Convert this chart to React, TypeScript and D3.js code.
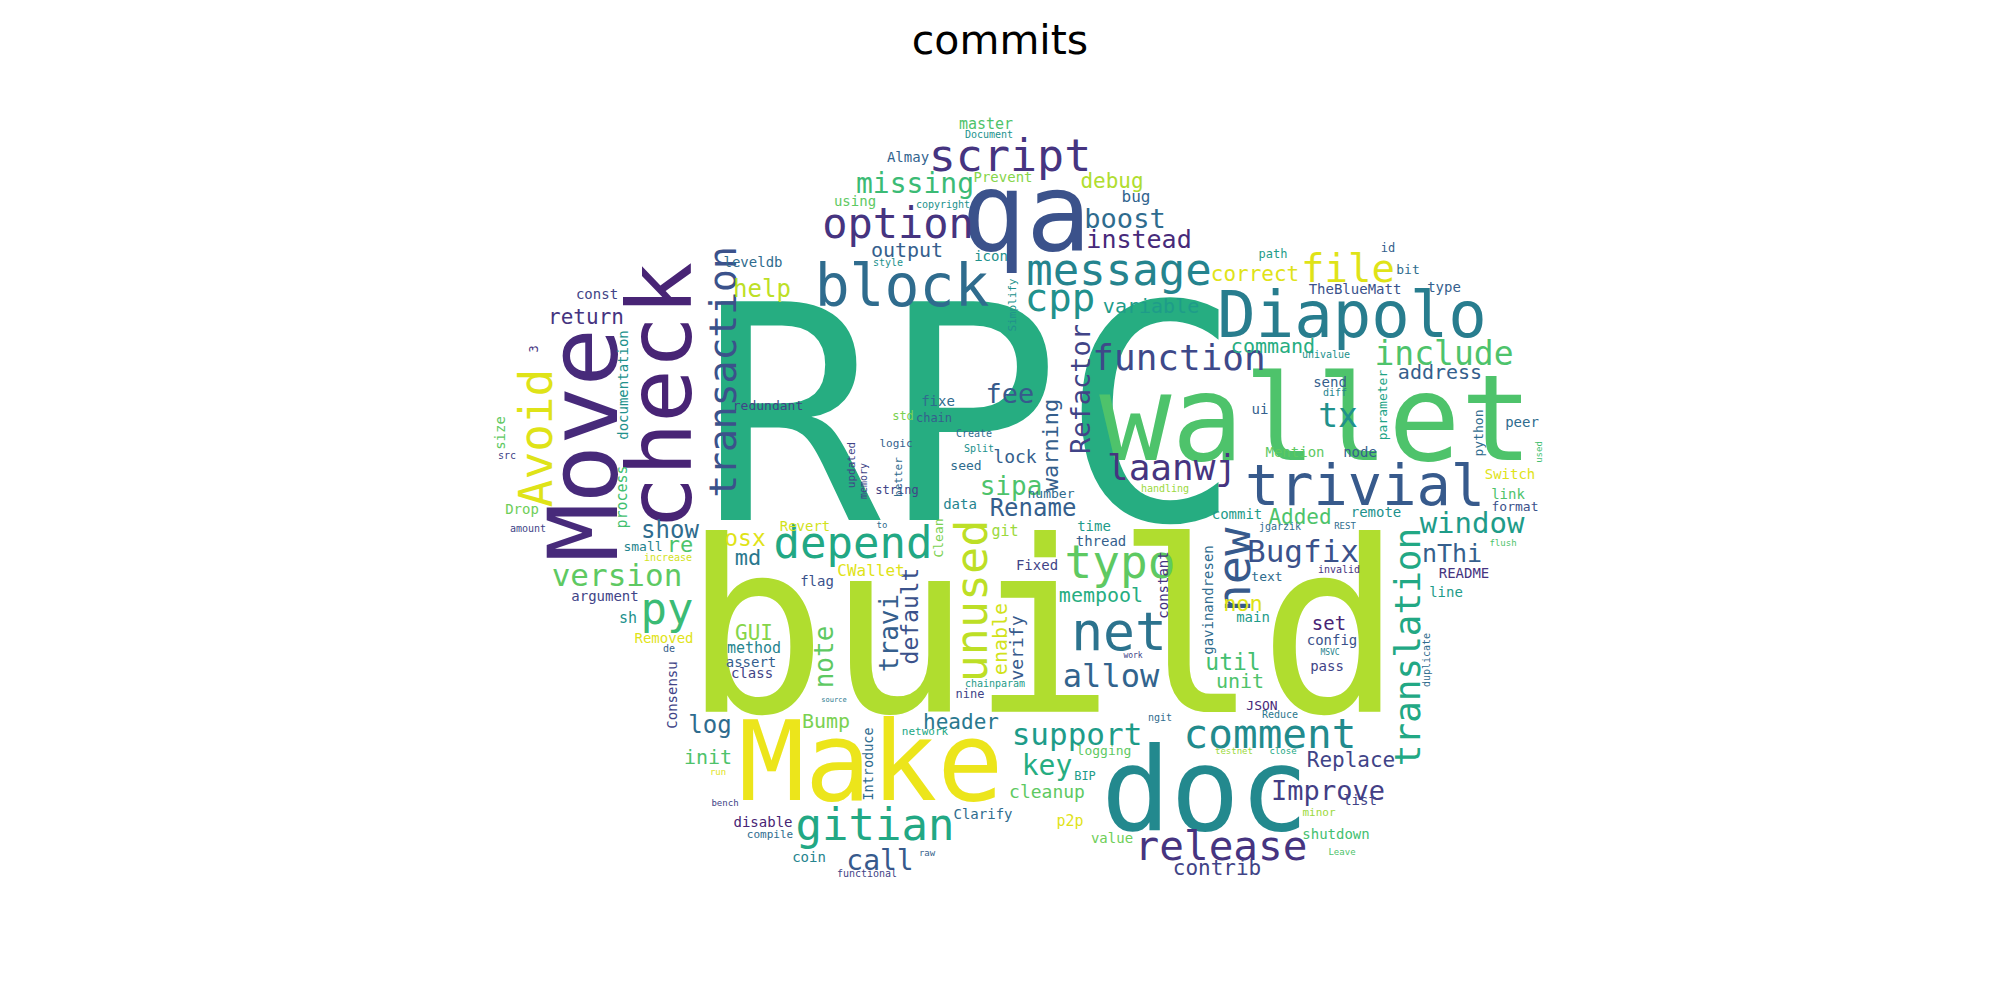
import { useEffect, useRef } from "react"
import * as d3 from "d3"

// [word, x, y, font size, rotation (0 | 90), position on the viridis ramp]
// horizontal words: x = centre, y = baseline
// vertical words (read bottom to top): x = baseline, y = centre
type WordRow = [string, number, number, number, number, number]

const chartTitle = "commits"

const largeWords: WordRow[] = [
  ["RPC", 971, 520, 300, 0, 0.62],
  ["build", 1043, 712, 239, 0, 0.88],
  ["wallet", 1316, 460, 120, 0, 0.72],
  ["Make", 871, 800, 110, 0, 0.97],
  ["doc", 1205, 830, 115, 0, 0.47],
  ["qa", 1026, 250, 108, 0, 0.25],
  ["check", 691, 396, 89, 90, 0.1],
  ["Move", 617, 445, 97, 90, 0.12],
  ["Diapolo", 1352, 337, 64, 0, 0.42],
  ["trivial", 1365, 505, 57, 0, 0.28],
  ["block", 902, 306, 58, 0, 0.35],
  ["message", 1119, 285, 44, 0, 0.45],
  ["script", 1010, 171, 45, 0, 0.15],
  ["option", 898, 238, 42, 0, 0.15],
  ["Avoid", 552, 438, 46, 90, 0.95],
  ["transaction", 736, 372, 38, 90, 0.25],
  ["net", 1119, 650, 53, 0, 0.38],
  ["new", 1250, 570, 47, 90, 0.28],
  ["typo", 1120, 578, 46, 0, 0.75],
  ["unused", 987, 601, 45, 90, 0.9],
  ["depend", 853, 558, 44, 0, 0.6],
  ["gitian", 875, 840, 44, 0, 0.6],
  ["comment", 1270, 748, 41, 0, 0.48],
  ["release", 1221, 860, 41, 0, 0.15],
]

const mediumWords: WordRow[] = [
  ["support", 1077, 745, 31, 0, 0.55],
  ["include", 1444, 365, 33, 0, 0.72],
  ["file", 1348, 282, 39, 0, 0.95],
  ["translation", 1420, 647, 36, 90, 0.6],
  ["function", 1179, 370, 36, 0, 0.22],
  ["laanwj", 1172, 480, 36, 0, 0.15],
  ["cpp", 1060, 311, 39, 0, 0.5],
  ["version", 617, 586, 31, 0, 0.75],
  ["py", 667, 624, 44, 0, 0.68],
  ["window", 1472, 533, 29, 0, 0.55],
  ["Bugfix", 1303, 562, 31, 0, 0.25],
  ["allow", 1111, 687, 32, 0, 0.32],
  ["call", 880, 870, 28, 0, 0.28],
  ["key", 1047, 775, 28, 0, 0.62],
  ["Improve", 1328, 800, 27, 0, 0.18],
  ["Refactor", 1090, 389, 27, 90, 0.2],
  ["sipa", 1011, 495, 26, 0, 0.72],
  ["fee", 1010, 403, 27, 0, 0.28],
  ["tx", 1338, 427, 33, 0, 0.5],
  ["note", 833, 657, 26, 90, 0.75],
  ["travi", 898, 633, 26, 90, 0.3],
  ["nThi", 1452, 562, 25, 0, 0.3],
  ["default", 918, 616, 23, 90, 0.25],
  ["Rename", 1033, 516, 24, 0, 0.3],
  ["osx", 745, 546, 23, 0, 0.95],
  ["md", 748, 565, 22, 0, 0.4],
  ["show", 670, 538, 24, 0, 0.35],
  ["re", 680, 552, 22, 0, 0.72],
  ["log", 710, 733, 24, 0, 0.35],
  ["init", 708, 764, 20, 0, 0.72],
  ["header", 961, 729, 21, 0, 0.4],
  ["Bump", 826, 728, 20, 0, 0.8],
  ["cleanup", 1047, 798, 18, 0, 0.75],
  ["contrib", 1217, 875, 21, 0, 0.2],
  ["Replace", 1351, 767, 21, 0, 0.2],
  ["util", 1233, 670, 23, 0, 0.7],
  ["unit", 1240, 688, 20, 0, 0.72],
  ["non", 1243, 611, 22, 0, 0.95],
  ["set", 1329, 630, 19, 0, 0.1],
  ["enable", 1007, 639, 20, 90, 0.93],
  ["mempool", 1101, 602, 20, 0, 0.62],
  ["warning", 1058, 445, 22, 90, 0.3],
  ["lock", 1015, 463, 18, 0, 0.3],
  ["GUI", 754, 640, 21, 0, 0.82],
  ["Added", 1300, 524, 21, 0, 0.72],
  ["command", 1273, 353, 20, 0, 0.62],
  ["address", 1440, 379, 20, 0, 0.3],
  ["variable", 1151, 313, 20, 0, 0.55],
  ["correct", 1255, 281, 21, 0, 0.95],
  ["debug", 1112, 188, 21, 0, 0.88],
  ["help", 762, 297, 24, 0, 0.9],
  ["output", 907, 257, 20, 0, 0.3],
  ["missing", 915, 193, 28, 0, 0.68],
  ["boost", 1125, 228, 27, 0, 0.35],
  ["instead", 1139, 248, 25, 0, 0.12],
  ["return", 586, 324, 21, 0, 0.15],
  ["verify", 1023, 648, 18, 90, 0.28],
  ["CWallet", 871, 576, 16, 0, 0.95],
]

const smallWords: WordRow[] = [
  ["master", 986, 129, 15, 0, 0.72],
  ["Almay", 908, 162, 14, 0, 0.32],
  ["Prevent", 1003, 182, 14, 0, 0.82],
  ["using", 855, 206, 14, 0, 0.75],
  ["leveldb", 753, 267, 14, 0, 0.35],
  ["icon", 991, 261, 14, 0, 0.5],
  ["bug", 1136, 202, 16, 0, 0.32],
  ["TheBlueMatt", 1355, 294, 14, 0, 0.25],
  ["type", 1444, 292, 14, 0, 0.3],
  ["bit", 1408, 274, 13, 0, 0.35],
  ["path", 1273, 258, 12, 0, 0.55],
  ["id", 1388, 252, 12, 0, 0.3],
  ["send", 1330, 387, 14, 0, 0.3],
  ["ui", 1260, 414, 14, 0, 0.3],
  ["parameter", 1387, 405, 13, 90, 0.58],
  ["python", 1483, 433, 13, 90, 0.35],
  ["Mention", 1295, 457, 14, 0, 0.75],
  ["node", 1360, 457, 14, 0, 0.3],
  ["commit", 1237, 519, 14, 0, 0.55],
  ["remote", 1376, 517, 14, 0, 0.5],
  ["peer", 1522, 427, 14, 0, 0.35],
  ["Switch", 1510, 479, 14, 0, 0.95],
  ["link", 1508, 499, 14, 0, 0.72],
  ["format", 1515, 511, 13, 0, 0.25],
  ["README", 1464, 578, 14, 0, 0.15],
  ["line", 1446, 597, 14, 0, 0.55],
  ["text", 1267, 581, 13, 0, 0.35],
  ["gavinandresen", 1213, 600, 14, 90, 0.35],
  ["main", 1253, 622, 14, 0, 0.55],
  ["config", 1332, 645, 14, 0, 0.25],
  ["pass", 1327, 671, 14, 0, 0.2],
  ["JSON", 1262, 710, 13, 0, 0.12],
  ["logging", 1104, 755, 13, 0, 0.75],
  ["BIP", 1085, 780, 12, 0, 0.55],
  ["p2p", 1070, 826, 15, 0, 0.95],
  ["value", 1112, 843, 14, 0, 0.78],
  ["shutdown", 1336, 839, 14, 0, 0.7],
  ["minor", 1319, 816, 11, 0, 0.85],
  ["list", 1360, 805, 14, 0, 0.2],
  ["Clarify", 983, 819, 14, 0, 0.35],
  ["coin", 809, 862, 14, 0, 0.45],
  ["disable", 763, 827, 14, 0, 0.1],
  ["Introduce", 873, 764, 13.5, 90, 0.35],
  ["thread", 1101, 546, 14, 0, 0.3],
  ["time", 1094, 531, 14, 0, 0.55],
  ["git", 1005, 536, 15, 0, 0.85],
  ["Fixed", 1037, 570, 14, 0, 0.2],
  ["constant", 1168, 585, 14, 90, 0.15],
  ["number", 1051, 498, 13, 0, 0.35],
  ["data", 960, 509, 14, 0, 0.45],
  ["nine", 970, 698, 12, 0, 0.2],
  ["flag", 817, 586, 14, 0, 0.25],
  ["method", 754, 653, 15, 0, 0.45],
  ["assert", 751, 667, 14, 0, 0.3],
  ["class", 752, 678, 14, 0, 0.2],
  ["const", 597, 299, 14, 0, 0.2],
  ["redundant", 768, 410, 13, 0, 0.2],
  ["documentation", 628, 385, 14, 90, 0.5],
  ["process", 627, 497, 15, 90, 0.7],
  ["size", 505, 433, 14, 90, 0.75],
  ["Drop", 522, 514, 14, 0, 0.78],
  ["small", 643, 551, 13, 0, 0.45],
  ["argument", 605, 601, 14, 0, 0.2],
  ["sh", 628, 623, 15, 0, 0.5],
  ["Removed", 664, 643, 14, 0, 0.95],
  ["Consensu", 677, 695, 14, 90, 0.2],
  ["Revert", 805, 531, 14, 0, 0.93],
  ["seed", 966, 470, 13, 0, 0.35],
  ["fixe", 938, 406, 14, 0, 0.35],
  ["chain", 934, 422, 12, 0, 0.3],
  ["std", 903, 420, 12, 0, 0.8],
  ["string", 897, 494, 12, 0, 0.2],
  ["logic", 896, 447, 11, 0, 0.3],
  ["Clean", 943, 538, 13, 90, 0.8],
  ["Split", 979, 452, 10, 0, 0.5],
  ["Create", 974, 437, 10, 0, 0.35],
  ["memory", 867, 481, 10, 90, 0.2],
  ["updated", 855, 465, 11, 90, 0.2],
  ["better", 902, 477, 11, 90, 0.35],
  ["Simplify", 1016, 305, 11, 90, 0.5],
]

const tinyWords: WordRow[] = [
  ["Document", 989, 138, 10, 0, 0.5],
  ["copyright", 943, 208, 10, 0, 0.5],
  ["style", 888, 266, 10, 0, 0.5],
  ["univalue", 1326, 358, 10, 0, 0.5],
  ["diff", 1335, 396, 10, 0, 0.45],
  ["jgarzik", 1280, 530, 10, 0, 0.35],
  ["REST", 1345, 529, 9, 0, 0.35],
  ["invalid", 1339, 573, 10, 0, 0.15],
  ["duplicate", 1430, 660, 10, 90, 0.35],
  ["used", 1542, 452, 9, 90, 0.7],
  ["network", 925, 735, 11, 0, 0.6],
  ["functional", 867, 877, 10, 0, 0.2],
  ["compile", 770, 838, 11, 0, 0.35],
  ["testnet", 1234, 754, 9, 0, 0.85],
  ["close", 1283, 754, 9, 0, 0.6],
  ["ngit", 1160, 721, 10, 0, 0.35],
  ["Reduce", 1280, 718, 10, 0, 0.4],
  ["handling", 1165, 492, 10, 0, 0.85],
  ["chainparam", 995, 687, 10, 0, 0.55],
  ["work", 1133, 658, 8, 0, 0.2],
  ["increase", 668, 561, 10, 0, 0.93],
  ["de", 669, 652, 10, 0, 0.3],
  ["amount", 528, 532, 10, 0, 0.2],
  ["src", 507, 459, 10, 0, 0.2],
  ["3", 538, 349, 12, 90, 0.15],
  ["to", 882, 528, 9, 0, 0.35],
  ["source", 834, 702, 7, 0, 0.4],
  ["run", 718, 775, 9, 0, 0.95],
  ["bench", 725, 806, 9, 0, 0.2],
  ["raw", 927, 856, 9, 0, 0.3],
  ["Leave", 1342, 855, 9, 0, 0.72],
  ["flush", 1503, 546, 9, 0, 0.72],
  ["MSVC", 1330, 655, 8, 0, 0.45],
]

const cloudWidth = 2000
const cloudHeight = 1000

export default function App() {
  const svgRef = useRef<SVGSVGElement>(null)
  const width = 2000
  const height = 1000

  useEffect(() => {
    if (!svgRef.current) return

    const svg = d3.select(svgRef.current)
    svg.selectAll("*").remove()

    const x = d3.scaleLinear().domain([0, cloudWidth]).range([0, width])
    const y = d3.scaleLinear().domain([0, cloudHeight]).range([0, height])
    const fontSize = d3.scaleLinear().domain([0, cloudWidth]).range([0, width])
    const colour = d3.scaleSequential(d3.interpolateViridis).domain([0, 1])

    svg.append("rect").attr("width", width).attr("height", height).attr("fill", "#ffffff")

    // Title
    svg
      .append("text")
      .attr("x", x(cloudWidth / 2))
      .attr("y", y(54))
      .attr("text-anchor", "middle")
      .attr("font-family", "'DejaVu Sans', sans-serif")
      .attr("font-size", `${fontSize(41)}px`)
      .attr("fill", "#000000")
      .text(chartTitle)

    const words = [...largeWords, ...mediumWords, ...smallWords, ...tinyWords]

    svg
      .append("g")
      .selectAll("text")
      .data(words)
      .enter()
      .append("text")
      .attr("transform", (d) => `translate(${x(d[1])}, ${y(d[2])})${d[4] === 90 ? " rotate(-90)" : ""}`)
      .attr("text-anchor", "middle")
      .attr("font-family", "'DejaVu Sans Mono', monospace")
      .attr("font-size", (d) => `${fontSize(d[3])}px`)
      .attr("fill", (d) => colour(d[5]))
      .text((d) => d[0])
  }, [])

  return (
    <div style={{ position: "absolute", left: 0, top: 0, width, height, background: "#ffffff" }}>
      <svg ref={svgRef} width={width} height={height} />
    </div>
  )
}
